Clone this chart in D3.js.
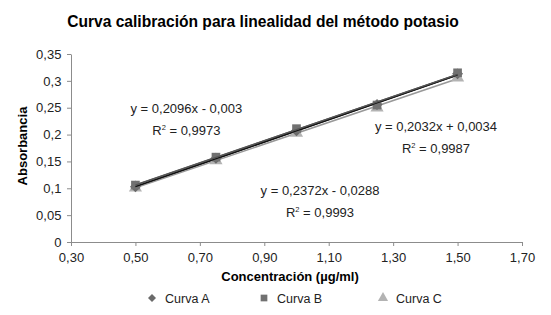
<!DOCTYPE html>
<html>
<head>
<meta charset="utf-8">
<script src="https://cdn.jsdelivr.net/npm/d3@7"></script>
<style>
  body { margin: 0; background: #fff; }
  svg { font-family: "Liberation Sans", Arial, sans-serif; }
</style>
</head>
<body>
<div id="chart"></div>
<script>
// DATA
const concentrations = [0.50, 0.75, 1.00, 1.25, 1.50];
const curvaA = [0.103, 0.156, 0.207, 0.256, 0.313];
const curvaB = [0.106, 0.158, 0.211, 0.255, 0.315];
const curvaC = [0.101, 0.152, 0.203, 0.250, 0.306];
const seriesNames = ["Curva A", "Curva B", "Curva C"];
const xTicks = [0.30, 0.50, 0.70, 0.90, 1.10, 1.30, 1.50, 1.70];
const yTicks = [0, 0.05, 0.1, 0.15, 0.2, 0.25, 0.3, 0.35];
const equations = [
    {eq: "y = 0,2096x - 0,003", r2: "0,9973", x: 0.658, y: 0.240},
    {eq: "y = 0,2032x + 0,0034", r2: "0,9987", x: 1.433, y: 0.206},
    {eq: "y = 0,2372x - 0,0288", r2: "0,9993", x: 1.073, y: 0.087}
];

const width = 551;
const height = 315;
const margin = {top: 54, right: 29, bottom: 73, left: 71};

const svg = d3.select("#chart")
    .append("svg")
        .attr("width", width)
        .attr("height", height);

const xScale = d3.scaleLinear()
    .domain([0.3, 1.7])
    .range([margin.left, width - margin.right]);
const yScale = d3.scaleLinear()
    .domain([0, 0.35])
    .range([height - margin.bottom, margin.top]);

const comma = d => d3.format(".2f")(d).replace(".", ",");
const commaY = d => (d === 0 ? "0" : String(d).replace(".", ","));

// axes
svg.append("g")
    .attr("transform", `translate(0, ${height - margin.bottom})`)
    .call(d3.axisBottom(xScale).tickValues(xTicks).tickFormat(comma).tickSize(4).tickSizeOuter(0))
    .call(g => g.selectAll("line, path").attr("stroke", "#8c8c8c"))
    .call(g => g.selectAll("text").attr("font-size", 13).attr("fill", "#222").attr("dy", "1em"));

svg.append("g")
    .attr("transform", `translate(${margin.left}, 0)`)
    .call(d3.axisLeft(yScale).tickValues(yTicks).tickFormat(commaY).tickSize(4).tickSizeOuter(0))
    .call(g => g.selectAll("line, path").attr("stroke", "#8c8c8c"))
    .call(g => g.selectAll("text").attr("font-size", 13).attr("fill", "#222").attr("dx", "-0.2em"));

// titles
svg.append("text")
    .attr("x", 263).attr("y", 27)
    .attr("text-anchor", "middle")
    .attr("font-size", 15.6).attr("font-weight", "bold")
    .text("Curva calibración para linealidad del método potasio");

svg.append("text")
    .attr("x", 290).attr("y", 281)
    .attr("text-anchor", "middle")
    .attr("font-size", 13).attr("font-weight", "bold")
    .text("Concentración (µg/ml)");

svg.append("text")
    .attr("transform", `translate(27, 146) rotate(-90)`)
    .attr("text-anchor", "middle")
    .attr("font-size", 13).attr("font-weight", "bold")
    .text("Absorbancia");

// trendlines (least squares on each series)
function fit(ys) {
    const mx = d3.mean(concentrations), my = d3.mean(ys);
    const b = d3.sum(concentrations, (x, i) => (x - mx) * (ys[i] - my)) /
              d3.sum(concentrations, x => (x - mx) ** 2);
    return {b: b, a: my - b * mx};
}
const allSeries = [curvaA, curvaB, curvaC];
const lineColors = ["#111", "#555", "#999"];
const markerColors = ["#6a6a6a", "#717171", "#b3b3b3"];
const x0 = d3.min(concentrations), x1 = d3.max(concentrations);

allSeries.forEach((ys, k) => {
    const f = fit(ys);
    svg.append("line")
        .attr("x1", xScale(x0)).attr("y1", yScale(f.a + f.b * x0))
        .attr("x2", xScale(x1)).attr("y2", yScale(f.a + f.b * x1))
        .attr("stroke", lineColors[k])
        .attr("stroke-width", 1.6);
});

// markers (diamond = square turned 45 degrees)
const symbols = [d3.symbolSquare, d3.symbolSquare, d3.symbolTriangle];
const rotations = [45, 0, 0];
const drawOrder = [2, 0, 1];
drawOrder.forEach(k => {
    svg.append("g")
    .selectAll("path")
    .data(concentrations)
    .join("path")
        .attr("transform", (d, i) => `translate(${xScale(d)}, ${yScale(allSeries[k][i])}) rotate(${rotations[k]})`)
        .attr("d", d3.symbol(symbols[k], k === 0 ? 60 : 75))
        .attr("fill", markerColors[k]);
});

// lines drawn over markers
allSeries.slice(0, 2).forEach((ys, k) => {
    const f = fit(ys);
    svg.append("line")
        .attr("x1", xScale(x0)).attr("y1", yScale(f.a + f.b * x0))
        .attr("x2", xScale(x1)).attr("y2", yScale(f.a + f.b * x1))
        .attr("stroke", lineColors[k])
        .attr("stroke-width", 1.4);
});

// equation labels
equations.forEach(e => {
    svg.append("text")
        .attr("x", xScale(e.x)).attr("y", yScale(e.y))
        .attr("text-anchor", "middle")
        .attr("font-size", 13).attr("fill", "#222")
        .text(e.eq);
    const r = svg.append("text")
        .attr("x", xScale(e.x)).attr("y", yScale(e.y) + 22)
        .attr("text-anchor", "middle")
        .attr("font-size", 13).attr("fill", "#222");
    r.append("tspan").text("R");
    r.append("tspan").attr("font-size", 7.5).attr("dy", -5).text("2");
    r.append("tspan").attr("dy", 5).text(" = " + e.r2);
});

// legend
const legendX = [152, 264, 383];
seriesNames.forEach((name, k) => {
    const g = svg.append("g").attr("transform", `translate(${legendX[k]}, 298)`);
    g.append("path")
        .attr("transform", `rotate(${rotations[k]})`)
        .attr("d", d3.symbol(symbols[k], k === 0 ? 32 : 45))
        .attr("fill", markerColors[k]);
    g.append("text")
        .attr("x", 13).attr("y", 5)
        .attr("font-size", 12.5).attr("fill", "#222")
        .text(name);
});
</script>
</body>
</html>
